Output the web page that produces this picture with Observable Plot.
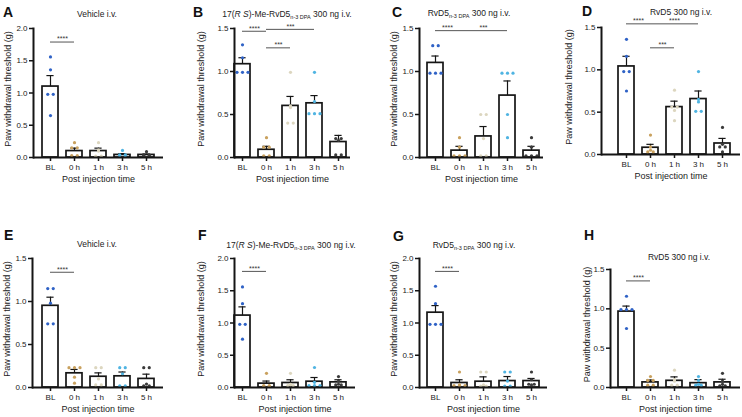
<!DOCTYPE html>
<html>
<head>
<meta charset="utf-8">
<script src="https://cdn.jsdelivr.net/npm/d3@7"></script>
<script src="https://cdn.jsdelivr.net/npm/@observablehq/plot@0.6"></script>
<style>
  body { margin: 0; background: #fff; font-family: "Liberation Sans", Arial, sans-serif; }
  #fig { position: relative; width: 742px; height: 417px; overflow: hidden; background: #fff; }
  .panel { position: absolute; }
  #overlay { position: absolute; left: 0; top: 0; pointer-events: none; }
</style>
</head>
<body>
<div id="fig"></div>
<script>
// ---------------- data ----------------
const categories = ["BL", "0 h", "1 h", "3 h", "5 h"];
const dotColors = ["#2f62c6", "#c9a15e", "#dcd6bf", "#4fb4e2", "#3b3b3b"];
const yLabel = "Paw withdrawal threshold (g)";
const xLabel = "Post injection time";

// Panel A: Vehicle i.v.
const meansA = [1.10, 0.10, 0.10, 0.04, 0.04];
const semsA  = [0.17, 0.045, 0.045, 0.02, 0.012];
const dotsA  = [[1.56, 1.36, 0.98, 0.98, 0.65], [0.23, 0.15, 0.15, 0.03, 0.03], [0.23, 0.12, 0.1, 0.02, 0.02], [0.11, 0.04, 0.04, 0.03, 0.03], [0.09, 0.04, 0.04, 0.03, 0.03]];
const sigA   = [{from: 0, to: 1, y: 1.79, label: "****"}];

// Panel B: 17(RS)-Me-RvD5n-3 DPA
const meansB = [1.085, 0.09, 0.60, 0.63, 0.18];
const semsB  = [0.075, 0.04, 0.11, 0.09, 0.077];
const dotsB  = [[1.31, 1.16, 0.99, 0.99, 0.99], [0.23, 0.12, 0.12, 0.02, 0.02], [0.99, 0.60, 0.58, 0.40, 0.40], [0.99, 0.65, 0.51, 0.51, 0.51], [0.22, 0.22, 0.2, 0.03, 0.03]];
const sigB   = [{from: 0, to: 1, y: 1.468, label: "****"}, {from: 1, to: 3, y: 1.49, label: "***"}, {from: 1, to: 2, y: 1.275, label: "***"}];

// Panel C: RvD5n-3 DPA
const meansC = [1.10, 0.08, 0.245, 0.72, 0.08];
const semsC  = [0.08, 0.05, 0.115, 0.17, 0.05];
const dotsC  = [[1.30, 1.30, 0.98, 0.98, 0.98], [0.23, 0.12, 0.02, 0.02, 0.02], [0.50, 0.50, 0.22, 0.02, 0.02], [0.98, 0.98, 0.98, 0.50, 0.23], [0.23, 0.12, 0.02, 0.02, 0.02]];
const sigC   = [{from: 0, to: 1, y: 1.475, label: "****"}, {from: 1, to: 3, y: 1.475, label: "***"}];

// Panel D: RvD5
const meansD = [1.04, 0.08, 0.56, 0.655, 0.13];
const semsD  = [0.12, 0.04, 0.07, 0.095, 0.06];
const dotsD  = [[1.36, 1.16, 0.98, 0.98, 0.75], [0.23, 0.09, 0.05, 0.03, 0.03], [0.76, 0.56, 0.56, 0.52, 0.40], [0.98, 0.65, 0.62, 0.51, 0.51], [0.32, 0.12, 0.09, 0.09, 0.03]];
const sigD   = [{from: 0, to: 1, y: 1.543, label: "****"}, {from: 1, to: 3, y: 1.543, label: "****"}, {from: 1, to: 2, y: 1.26, label: "***"}];

// Panel E: Vehicle i.v.
const meansE = [0.95, 0.165, 0.125, 0.13, 0.10];
const semsE  = [0.10, 0.045, 0.045, 0.05, 0.055];
const dotsE  = [[1.15, 1.15, 0.98, 0.74, 0.74], [0.23, 0.23, 0.23, 0.12, 0.05], [0.23, 0.23, 0.1, 0.03, 0.03], [0.23, 0.23, 0.16, 0.02, 0.02], [0.23, 0.23, 0.04, 0.02, 0.02]];
const sigE   = [{from: 0, to: 1, y: 1.34, label: "****"}];

// Panel F: 17(RS)-Me-RvD5n-3 DPA
const meansF = [1.115, 0.06, 0.07, 0.09, 0.08];
const semsF  = [0.135, 0.04, 0.05, 0.065, 0.04];
const dotsF  = [[1.56, 1.30, 0.98, 0.98, 0.75], [0.22, 0.03, 0.03, 0.02, 0.02], [0.22, 0.05, 0.04, 0.03, 0.03], [0.31, 0.08, 0.03, 0.03, 0.03], [0.17, 0.10, 0.05, 0.04, 0.04]];
const sigF   = [{from: 0, to: 1, y: 1.80, label: "****"}];

// Panel G: RvD5n-3 DPA
const meansG = [1.16, 0.07, 0.09, 0.10, 0.10];
const semsG  = [0.11, 0.05, 0.075, 0.07, 0.04];
const dotsG  = [[1.57, 1.30, 0.98, 0.98, 0.98], [0.24, 0.04, 0.03, 0.03, 0.03], [0.24, 0.24, 0.04, 0.02, 0.02], [0.24, 0.24, 0.10, 0.02, 0.02], [0.24, 0.12, 0.05, 0.05, 0.04]];
const sigG   = [{from: 0, to: 1, y: 1.80, label: "****"}];

// Panel H: RvD5
const meansH = [0.965, 0.065, 0.085, 0.055, 0.065];
const semsH  = [0.07, 0.03, 0.05, 0.045, 0.04];
const dotsH  = [[1.16, 0.99, 0.99, 0.99, 0.75], [0.14, 0.09, 0.09, 0.03, 0.03], [0.22, 0.10, 0.08, 0.03, 0.03], [0.14, 0.09, 0.04, 0.03, 0.03], [0.18, 0.08, 0.04, 0.02, 0.02]];
const sigH   = [{from: 0, to: 1, y: 1.355, label: "****"}];

// ---------------- layout ----------------
const panels = [
  {id: "A", means: meansA, sems: semsA, dots: dotsA, sig: sigA, ymax: 2.0, left: 0,   top: 0,   w: 185, h: 210, axisX: 33, yTop: 28, y0: 157, c0: 50, xEnd: 163, ylab: 25.5},
  {id: "B", means: meansB, sems: semsB, dots: dotsB, sig: sigB, ymax: 1.5, left: 185, top: 0,   w: 185, h: 210, axisX: 49, yTop: 28, y0: 157, c0: 57, xEnd: 165, ylab: 33},
  {id: "C", means: meansC, sems: semsC, dots: dotsC, sig: sigC, ymax: 1.5, left: 370, top: 0,   w: 185, h: 210, axisX: 49, yTop: 28, y0: 157, c0: 65, xEnd: 173, ylab: 25.5},
  {id: "D", means: meansD, sems: semsD, dots: dotsD, sig: sigD, ymax: 1.5, left: 555, top: 0,   w: 187, h: 210, axisX: 46, yTop: 27, y0: 154, c0: 71, xEnd: 185, ylab: 32},
  {id: "E", means: meansE, sems: semsE, dots: dotsE, sig: sigE, ymax: 1.5, left: 0,   top: 210, w: 185, h: 207, axisX: 32, yTop: 48, y0: 177, c0: 50, xEnd: 163, ylab: 25},
  {id: "F", means: meansF, sems: semsF, dots: dotsF, sig: sigF, ymax: 2.0, left: 185, top: 210, w: 185, h: 207, axisX: 49, yTop: 48, y0: 177, c0: 57, xEnd: 170, ylab: 33},
  {id: "G", means: meansG, sems: semsG, dots: dotsG, sig: sigG, ymax: 2.0, left: 370, top: 210, w: 185, h: 207, axisX: 49, yTop: 48, y0: 177, c0: 65, xEnd: 177, ylab: 25.5},
  {id: "H", means: meansH, sems: semsH, dots: dotsH, sig: sigH, ymax: 1.5, left: 555, top: 210, w: 187, h: 207, axisX: 55, yTop: 59, y0: 177, c0: 71, xEnd: 185, ylab: 23.5}
];

const fig = document.getElementById("fig");
const ink = "#151515";
const step = 24;

for (const p of panels) {
  const bars = categories.map((c, i) => ({i, cat: c, mean: p.means[i], top: p.means[i] + p.sems[i]}));
  const pts = [];
  p.dots.forEach((vals, i) => {
    const groups = d3.group(vals, v => v.toFixed(2));
    for (const g of groups.values()) g.forEach((v, j) => pts.push({i, cat: categories[i], v, slot: j - (g.length - 1) / 2}));
  });
  const chart = Plot.plot({
    width: p.w, height: p.h,
    marginLeft: p.axisX, marginRight: p.w - p.xEnd, marginTop: p.yTop, marginBottom: p.h - p.y0,
    style: {fontFamily: "'Liberation Sans', Arial, sans-serif", fontSize: "8px", color: "#222", background: "transparent", overflow: "visible"},
    x: {type: "linear", domain: [-0.5, 4.5], range: [p.c0 - step / 2, p.c0 - step / 2 + 5 * step]},
    y: {domain: [0, p.ymax], range: [p.y0, p.yTop]},
    color: {domain: categories, range: dotColors},
    marks: [
      Plot.rectY(bars, {x1: d => d.i - 0.5, x2: d => d.i + 0.5, y1: 0, y2: "mean", insetLeft: 4, insetRight: 4, fill: "white", stroke: ink, strokeWidth: 1.7}),
      Plot.ruleX(bars, {x: "i", y1: "mean", y2: "top", stroke: ink, strokeWidth: 1.2}),
      Plot.ruleY(bars, {x1: d => d.i - 0.15, x2: d => d.i + 0.15, y: "top", stroke: ink, strokeWidth: 1.2}),
      Plot.dot(pts, {x: d => d.i + d.slot * 0.23, y: "v", r: 1.6, fill: "cat", stroke: "none"}),
      Plot.axisY({ticks: d3.range(0, p.ymax + 1e-9, 0.5), tickFormat: d3.format(".1f"), tickSize: 4, tickPadding: 2, label: null, strokeWidth: 1.5, stroke: ink}),
      Plot.axisX({ticks: [0, 1, 2, 3, 4], tickFormat: i => categories[i], tickSize: 4, tickPadding: 3, label: null, strokeWidth: 1.5, stroke: ink}),
      Plot.frame({anchor: "left", stroke: ink, strokeWidth: 2}),
      Plot.ruleY([0], {stroke: ink, strokeWidth: 2}),
      Plot.text([yLabel], {frameAnchor: "left", textAnchor: "middle", rotate: -90, dx: -p.ylab, dy: -4, fontSize: 9, fill: "#222", text: d => d}),
      Plot.text([xLabel], {frameAnchor: "bottom", dy: 24.5, fontSize: 9, fill: "#222", text: d => d}),
      Plot.ruleY(p.sig, {x1: "from", x2: "to", y: "y", stroke: "#555", strokeWidth: 1}),
      Plot.text(p.sig, {x: d => (d.from + d.to) / 2, y: "y", text: "label", dy: -3, fontSize: 7, fill: "#333"})
    ]
  });
  const holder = document.createElement("div");
  holder.className = "panel";
  holder.style.left = p.left + "px";
  holder.style.top = p.top + "px";
  holder.appendChild(chart);
  fig.appendChild(holder);
}

// ---------------- letters and titles ----------------
const letters = [
  {t: "A", x: 3, y: 17}, {t: "B", x: 193, y: 17}, {t: "C", x: 392, y: 17}, {t: "D", x: 582, y: 16},
  {t: "E", x: 4, y: 240}, {t: "F", x: 198, y: 240}, {t: "G", x: 393, y: 241}, {t: "H", x: 584, y: 240}
];
const titles = [
  {kind: "veh", x: 97, y: 17}, {kind: "me", x: 287, y: 17}, {kind: "dpa", x: 469, y: 16}, {kind: "rvd5", x: 681, y: 15},
  {kind: "veh", x: 97, y: 247}, {kind: "me", x: 291, y: 248}, {kind: "dpa", x: 474, y: 248}, {kind: "rvd5", x: 679, y: 260}
];

const svg = d3.select(fig).append("svg").attr("id", "overlay").attr("width", 742).attr("height", 417)
  .style("font-family", "'Liberation Sans', Arial, sans-serif");
svg.selectAll("text.letter").data(letters).join("text").attr("class", "letter")
  .attr("x", d => d.x).attr("y", d => d.y).attr("font-size", 14).attr("font-weight", "bold").attr("fill", "#111").text(d => d.t);

titles.forEach(d => {
  const t = svg.append("text").attr("x", d.x).attr("y", d.y).attr("text-anchor", "middle").attr("font-size", 8.5).attr("fill", "#222");
  if (d.kind === "veh") {
    t.text("Vehicle i.v.");
  } else if (d.kind === "rvd5") {
    t.text("RvD5 300 ng i.v.");
  } else {
    if (d.kind === "me") {
      t.append("tspan").text("17(");
      t.append("tspan").attr("font-style", "italic").text("R S");
      t.append("tspan").text(")-Me-RvD5");
    } else {
      t.append("tspan").text("RvD5");
    }
    t.append("tspan").attr("font-size", 5.5).attr("dy", 2).text("n-3 DPA");
    t.append("tspan").attr("dy", -2).text(" 300 ng i.v.");
  }
});
</script>
</body>
</html>
